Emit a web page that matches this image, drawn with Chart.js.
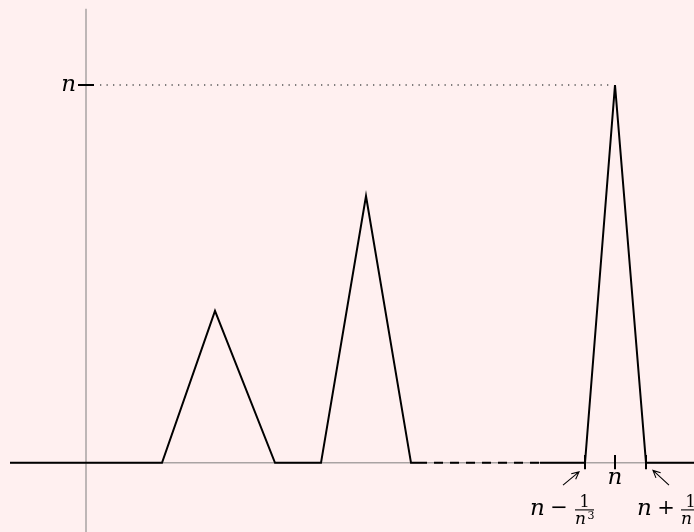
<!DOCTYPE html>
<html><head><meta charset="utf-8">
<style>html,body{margin:0;padding:0;background:#fff0f0;}canvas{display:block;}</style>
<script src="https://cdn.jsdelivr.net/npm/chart.js@4/dist/chart.umd.min.js"></script>
</head><body>
<canvas id="c" width="694" height="532"></canvas>
<script>
// ---- data (schematic units; y-axis at x = 0, n = 10) ----
const curveX = [-0.76, 0.76, 1.29, 1.89, 2.35, 2.80, 3.25, 3.41];
const curveY = [0, 0, 4.02, 0, 0, 7.06, 0, 0];
const gapX = [3.41, 4.54];
const gapY = [0, 0];
const spikeX = [4.54, 4.99, 5.29, 5.60, 6.08];
const spikeY = [0, 0, 10, 0, 0];
const nValue = 10;            // height of the tallest spike (label "n")
const xTickValues = [4.99, 5.29, 5.60];
const yTickLabels = ['n'];
const xTickLabels = ['n'];
const leftLabelParts = ['n', '−', '1', 'n', '3'];
const rightLabelParts = ['n', '+', '1', 'n', '3'];

const toPts = (xs, ys) => xs.map((x, i) => ({x, y: ys[i]}));

const BG = '#fff0f0';
const AXIS = '#a9a3a3';

const bgPlugin = {
  id: 'bg',
  beforeDraw(chart) {
    const c = chart.ctx;
    c.save(); c.fillStyle = BG; c.fillRect(0, 0, chart.width, chart.height); c.restore();
  },
  beforeDatasetsDraw(chart) {
    const c = chart.ctx, xs = chart.scales.x, ys = chart.scales.y;
    c.save();
    c.strokeStyle = AXIS; c.lineWidth = 1.5;
    c.beginPath();
    c.moveTo(xs.getPixelForValue(curveX[0]), ys.getPixelForValue(0));
    c.lineTo(xs.getPixelForValue(xs.max), ys.getPixelForValue(0));
    c.stroke();
    c.beginPath();
    c.moveTo(xs.getPixelForValue(0), ys.getPixelForValue(12.02));
    c.lineTo(xs.getPixelForValue(0), ys.getPixelForValue(ys.min));
    c.stroke();
    c.strokeStyle = '#555'; c.lineWidth = 1.3; c.setLineDash([1.3, 5.2]);
    c.beginPath();
    c.moveTo(xs.getPixelForValue(0.14), ys.getPixelForValue(nValue));
    c.lineTo(xs.getPixelForValue(5.27), ys.getPixelForValue(nValue));
    c.stroke();
    c.restore();
  },
  afterDatasetsDraw(chart) {
    const c = chart.ctx, xs = chart.scales.x, ys = chart.scales.y;
    const px = v => xs.getPixelForValue(v), py = v => ys.getPixelForValue(v);
    c.save();
    c.strokeStyle = '#000'; c.fillStyle = '#000'; c.lineWidth = 2;
    c.beginPath(); c.moveTo(px(-0.08), py(nValue)); c.lineTo(px(0.08), py(nValue)); c.stroke();
    xTickValues.forEach(v => {
      c.beginPath(); c.moveTo(px(v), py(0.21)); c.lineTo(px(v), py(-0.17)); c.stroke();
    });
    const ital = s => `italic ${s}px "DejaVu Serif"`;
    const up = s => `${s}px "DejaVu Serif"`;
    c.font = ital(23); c.textAlign = 'right'; c.textBaseline = 'alphabetic';
    c.fillText(yTickLabels[0], px(-0.10), py(nValue) + 6);
    c.textAlign = 'center';
    c.fillText(xTickLabels[0], px(xTickValues[1]), py(-0.55));
    const arrow = (x0, y0, x1, y1) => {
      const a = Math.atan2(y1 - y0, x1 - x0), L = 8, w = 0.45;
      c.beginPath(); c.moveTo(x0, y0); c.lineTo(x1, y1);
      c.moveTo(x1 - L * Math.cos(a - w), y1 - L * Math.sin(a - w));
      c.lineTo(x1, y1);
      c.lineTo(x1 - L * Math.cos(a + w), y1 - L * Math.sin(a + w));
      c.stroke();
    };
    c.lineWidth = 1.1;
    arrow(px(4.77), py(-0.59), px(4.93), py(-0.24));
    arrow(px(5.83), py(-0.59), px(5.67), py(-0.20));
    const fracLabel = (parts, x0, dxOp, dxFrac) => {
      const base = py(-1.375);
      c.textAlign = 'left'; c.textBaseline = 'alphabetic';
      c.font = ital(23); c.fillText(parts[0], px(x0), base);
      c.textAlign = 'center'; c.font = up(21);
      c.fillText(parts[1], px(x0 + dxOp), base - 1);
      const fx = x0 + dxFrac;
      c.lineWidth = 1.1; c.beginPath();
      c.moveTo(px(fx), py(-1.245)); c.lineTo(px(fx + 0.19), py(-1.245)); c.stroke();
      c.font = up(16); c.fillText(parts[2], px(fx + 0.095), py(-1.16));
      c.textAlign = 'left'; c.font = ital(17);
      c.fillText(parts[3], px(fx), py(-1.63));
      c.font = up(11); c.fillText(parts[4], px(fx + 0.125), py(-1.48));
    };
    fracLabel(leftLabelParts, 4.44, 0.29, 0.45);
    fracLabel(rightLabelParts, 5.51, 0.29, 0.44);
    c.restore();
  }
};

const lineStyle = {borderColor: '#000', borderWidth: 2, pointRadius: 0, showLine: true, tension: 0, fill: false};

new Chart(document.getElementById('c'), {
  type: 'scatter',
  data: {
    datasets: [
      Object.assign({data: toPts(curveX, curveY)}, lineStyle),
      Object.assign({data: toPts(gapX, gapY), borderDash: [9, 7], borderDashOffset: 9}, lineStyle),
      Object.assign({data: toPts(spikeX, spikeY)}, lineStyle)
    ]
  },
  options: {
    responsive: false,
    animation: false,
    devicePixelRatio: 1,
    layout: {padding: 0},
    plugins: {legend: {display: false}, tooltip: {enabled: false}},
    scales: {
      x: {type: 'linear', min: -0.86, max: 6.08, display: false},
      y: {type: 'linear', min: -1.83, max: 12.25, display: false}
    }
  },
  plugins: [bgPlugin]
});
</script></body></html>
